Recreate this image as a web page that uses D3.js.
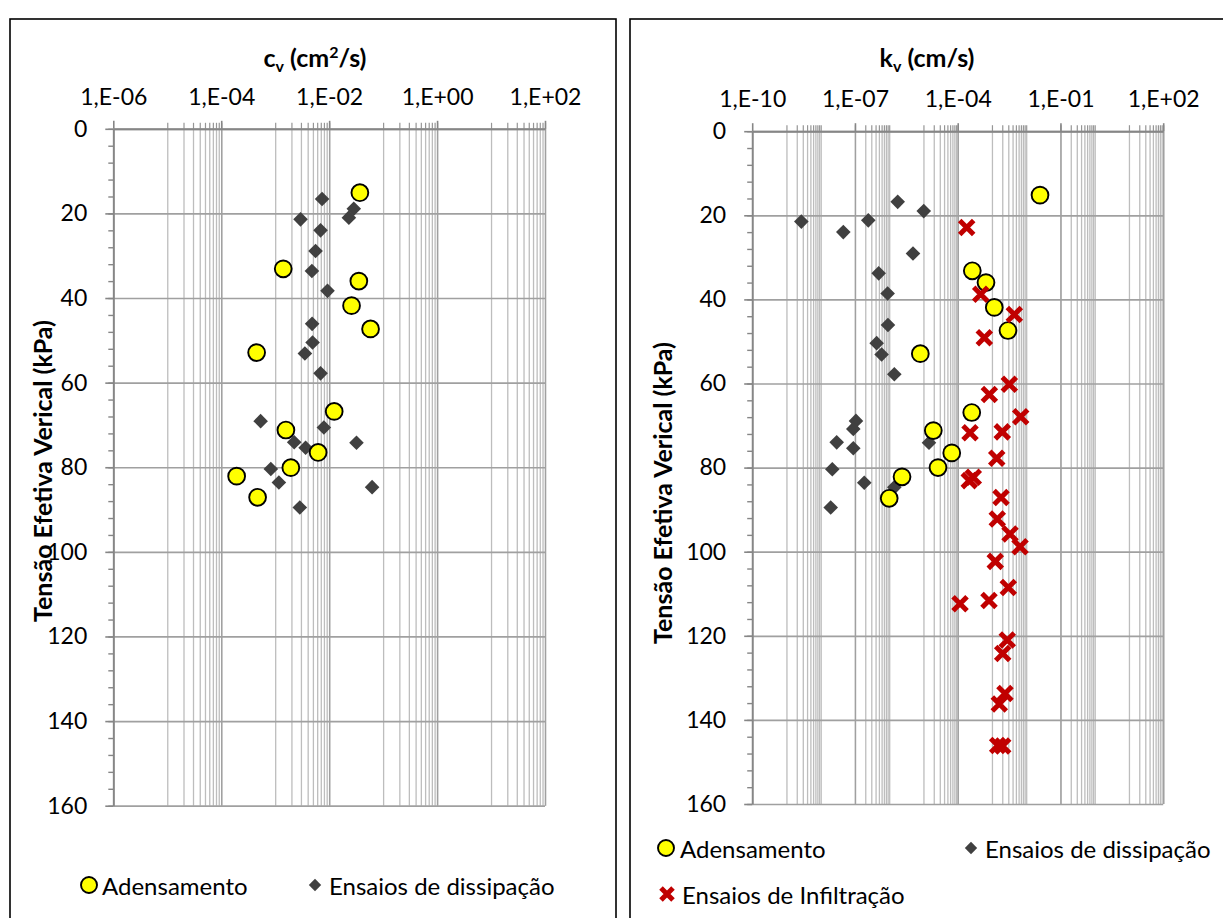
<!DOCTYPE html>
<html>
<head>
<meta charset="utf-8">
<script src="https://cdn.jsdelivr.net/npm/d3@7"></script>
<style>
  body { margin: 0; background: #fff; }
  svg { display: block; }
  text { font-family: Lato, "Open Sans", "DejaVu Sans", sans-serif; fill: #000; }
</style>
</head>
<body>
<svg id="chart" width="1223" height="918"></svg>
<script>
// ---- Data: [value, vertical effective stress (kPa)] ----
// Coefficient of consolidation cv (cm²/s)
const cvAdensamento = [
  [0.0371, 15.1], [1.41e-3, 33.1], [0.0355, 36.0], [0.026, 41.8], [0.0585, 47.3], [4.53e-4, 52.9],
  [0.0124, 66.8], [1.58e-3, 71.2], [6.25e-3, 76.5], [1.95e-3, 80.1], [1.93e-4, 82.1], [4.72e-4, 87.1]
];
const cvDissipacao = [
  [7.4e-3, 16.6], [0.0286, 18.9], [0.0232, 21.0], [2.95e-3, 21.4], [6.93e-3, 24.0], [5.6e-3, 28.9],
  [4.79e-3, 33.6], [9.33e-3, 38.3], [4.84e-3, 46.1], [4.93e-3, 50.5], [3.55e-3, 53.1], [6.93e-3, 57.8],
  [5.37e-4, 69.1], [7.98e-3, 70.6], [0.0321, 74.2], [2.25e-3, 74.1], [3.66e-3, 75.4], [8.3e-4, 80.4],
  [1.17e-3, 83.6], [0.0625, 84.7], [2.86e-3, 89.5]
];
// Vertical hydraulic conductivity kv (cm/s)
const kvAdensamento = [
  [0.0253, 15.2], [2.67e-4, 33.2], [6.7e-4, 36.0], [1.17e-3, 41.9], [2.94e-3, 47.4], [8.1e-6, 52.9],
  [2.57e-4, 66.9], [1.94e-5, 71.2], [6.7e-5, 76.5], [2.66e-5, 80.0], [2.37e-6, 82.2], [1.0e-6, 87.3]
];
const kvDissipacao = [
  [1.77e-6, 16.8], [1.02e-5, 19.0], [2.72e-9, 21.5], [2.45e-7, 21.2], [4.57e-8, 24.0], [4.95e-6, 29.1],
  [4.93e-7, 33.8], [9.0e-7, 38.6], [9.2e-7, 46.1], [4.3e-7, 50.4], [6.0e-7, 53.1], [1.41e-6, 57.8],
  [1.07e-7, 68.9], [8.95e-8, 70.8], [2.93e-8, 74.0], [8.95e-8, 75.4], [1.45e-5, 74.1], [2.18e-8, 80.4],
  [1.87e-7, 83.6], [1.41e-6, 84.7], [1.96e-8, 89.5]
];
const kvInfiltracao = [
  [1.83e-4, 22.9], [4.7e-4, 38.8], [4.5e-3, 43.6], [5.98e-4, 49.1], [3.21e-3, 60.2], [8.4e-4, 62.6],
  [6.9e-3, 67.9], [2.29e-4, 71.7], [2.0e-3, 71.5], [1.38e-3, 77.8], [2.85e-4, 82.3], [2.18e-4, 83.1],
  [1.84e-3, 87.1], [1.43e-3, 92.2], [3.37e-3, 95.8], [6.6e-3, 98.8], [1.25e-3, 102.3], [1.17e-4, 112.4],
  [8.2e-4, 111.6], [3.0e-3, 108.5], [2.8e-3, 121.0], [2.06e-3, 124.2], [2.4e-3, 133.7], [1.64e-3, 136.2],
  [1.47e-3, 146.1], [2.06e-3, 146.2]
];

// ---- Axis ticks ----
const cvTicks = [1e-6, 1e-4, 1e-2, 1, 1e2];
const kvTicks = [1e-10, 1e-7, 1e-4, 1e-1, 1e2];
const cvMinorDecades = [-5, -3, -1, 1];
const kvMinorDecades = [-9, -7, -5, -3, -1, 1];
const stressTicks = [0, 20, 40, 60, 80, 100, 120, 140, 160];
const stressMinor = d3.range(0, 161, 4);

const legendLabels = ["Adensamento", "Ensaios de dissipação", "Ensaios de Infiltração"];
const yTitle = "Tensão Efetiva Verical (kPa)";

const svg = d3.select("#chart");

// Excel-style pt-BR scientific label, e.g. 1,E-06
const sciLabel = v => {
  const e = Math.round(Math.log10(v));
  return "1,E" + (e < 0 ? "-" : "+") + String(Math.abs(e)).padStart(2, "0");
};

// minor gridlines: k·10^e (k = 1..10) inside every listed decade
const minorValues = decades => decades.flatMap(e => d3.range(1, 11).map(k => k * Math.pow(10, e)));

// ---- markers ----
function circleMark(sel, r) {
  sel.append("circle").attr("r", r).attr("fill", "#FFFF00").attr("stroke", "#000").attr("stroke-width", 1.9);
}
function diamondMark(sel, h) {
  sel.append("path").attr("d", `M0,${-h}L${h},0L0,${h}L${-h},0Z`).attr("fill", "#404040");
}
function crossMark(sel, h) {
  sel.append("path").attr("d", `M${-h},${-h}L${h},${h}M${-h},${h}L${h},${-h}`)
    .attr("stroke", "#C00000").attr("stroke-width", 5).attr("fill", "none");
}

function drawPanel(p) {
  const g = svg.append("g");

  // panel frame
  g.append("rect").attr("x", p.frame[0]).attr("y", p.frame[1]).attr("width", p.frame[2]).attr("height", 950)
    .attr("fill", "none").attr("stroke", "#000").attr("stroke-width", 1.6);

  const x = d3.scaleLog().domain(p.domain).range([p.left, p.right]);
  const y = d3.scaleLinear().domain([0, 160]).range([p.top, p.bottom]);
  const plotH = p.bottom - p.top, plotW = p.right - p.left;

  // vertical minor gridlines
  g.append("g").attr("transform", `translate(0,${p.top})`)
    .call(d3.axisTop(x).tickValues(p.minor).tickSize(-plotH).tickFormat(""))
    .call(a => { a.select(".domain").remove(); a.selectAll("line").attr("stroke", "#BDBDBD").attr("stroke-width", 1.3); });
  // vertical major gridlines
  g.append("g").attr("transform", `translate(0,${p.top})`)
    .call(d3.axisTop(x).tickValues(p.ticks).tickSize(-plotH).tickFormat(""))
    .call(a => { a.select(".domain").remove(); a.selectAll("line").attr("stroke", "#A0A0A0").attr("stroke-width", 1.4); });
  // horizontal gridlines
  g.append("g").attr("transform", `translate(${p.left},0)`)
    .call(d3.axisLeft(y).tickValues(stressTicks).tickSize(-plotW).tickFormat(""))
    .call(a => { a.select(".domain").remove(); a.selectAll("line").attr("stroke", "#A0A0A0").attr("stroke-width", 1.7); });

  // top (x) axis: minor and major ticks with labels
  g.append("g").attr("transform", `translate(0,${p.top})`)
    .call(d3.axisTop(x).tickValues(p.minor).tickSize(6).tickFormat(""))
    .call(a => { a.select(".domain").remove(); a.selectAll("line").attr("stroke", "#969696").attr("stroke-width", 1.2); });
  g.append("g").attr("transform", `translate(0,${p.top})`)
    .call(d3.axisTop(x).tickValues(p.ticks).tickSizeInner(8).tickSizeOuter(0).tickPadding(16).tickFormat(sciLabel))
    .call(a => {
      a.select(".domain").attr("stroke", "#868686").attr("stroke-width", 1.9);
      a.selectAll("line").attr("stroke", "#868686").attr("stroke-width", 1.6);
      a.selectAll("text").attr("font-size", 23).attr("fill", "#000").style("font-family", "Lato");
    });

  // left (y) axis
  g.append("g").attr("transform", `translate(${p.left},0)`)
    .call(d3.axisLeft(y).tickValues(stressMinor).tickSize(5).tickFormat(""))
    .call(a => { a.select(".domain").remove(); a.selectAll("line").attr("stroke", "#868686").attr("stroke-width", 1.4); });
  g.append("g").attr("transform", `translate(${p.left},0)`)
    .call(d3.axisLeft(y).tickValues(stressTicks).tickSizeInner(8).tickSizeOuter(0).tickPadding(18))
    .call(a => {
      a.select(".domain").attr("stroke", "#868686").attr("stroke-width", 1.9);
      a.selectAll("line").attr("stroke", "#868686").attr("stroke-width", 1.6);
      a.selectAll("text").attr("font-size", 23).attr("fill", "#000").style("font-family", "Lato");
    });

  // chart title
  const t = g.append("text").attr("x", p.titleX).attr("y", 67).attr("text-anchor", "middle")
    .attr("font-size", 25).attr("font-weight", "bold");
  t.append("tspan").text(p.title[0]);
  t.append("tspan").text(p.title[1]).attr("font-size", 16).attr("dy", 5);
  t.append("tspan").text(p.title[2]).attr("dy", -5);
  if (p.title[3]) {
    t.append("tspan").text(p.title[3]).attr("font-size", 16).attr("dy", -9);
    t.append("tspan").text(p.title[4]).attr("dy", 9);
  }

  // y-axis title
  g.append("text").attr("transform", `translate(${p.yTitle[0]},${p.yTitle[1]}) rotate(-90)`)
    .attr("text-anchor", "middle").attr("dominant-baseline", "central")
    .attr("font-size", 25).attr("font-weight", "bold").text(yTitle);

  // data series
  const plotG = g.append("g");
  p.series.forEach(s => {
    plotG.selectAll(null).data(s.data).enter().append("g")
      .attr("transform", d => `translate(${x(d[0])},${y(d[1])})`)
      .each(function () { s.mark(d3.select(this), s.size); });
  });

  // legend
  p.legend.forEach(l => {
    const lg = g.append("g").attr("transform", `translate(${l.mx},${l.y})`);
    l.mark(lg, l.size);
    g.append("text").attr("x", l.tx).attr("y", l.y).attr("dominant-baseline", "central")
      .attr("font-size", 24).text(l.label);
  });
}

drawPanel({
  frame: [10, 19, 606],
  domain: [1e-6, 1e2], left: 113.3, right: 545, top: 128.8, bottom: 805.7,
  ticks: cvTicks, minor: minorValues(cvMinorDecades),
  title: ["c", "v", " (cm", "2", "/s)"], titleX: 315,
  yTitle: [42, 471],
  series: [
    { data: cvDissipacao, mark: diamondMark, size: 7.3 },
    { data: cvAdensamento, mark: circleMark, size: 8.4 }
  ],
  legend: [
    { label: legendLabels[0], mark: circleMark, size: 8, mx: 89, tx: 102, y: 885 },
    { label: legendLabels[1], mark: diamondMark, size: 6.2, mx: 315, tx: 329, y: 885 }
  ]
});

drawPanel({
  frame: [630, 19, 620],
  domain: [1e-10, 1e2], left: 752.2, right: 1163.2, top: 131.2, bottom: 804,
  ticks: kvTicks, minor: minorValues(kvMinorDecades),
  title: ["k", "v", " (cm/s)"], titleX: 927,
  yTitle: [662, 493],
  series: [
    { data: kvDissipacao, mark: diamondMark, size: 7.3 },
    { data: kvAdensamento, mark: circleMark, size: 8.4 },
    { data: kvInfiltracao, mark: crossMark, size: 7 }
  ],
  legend: [
    { label: legendLabels[0], mark: circleMark, size: 8, mx: 666, tx: 680, y: 848 },
    { label: legendLabels[1], mark: diamondMark, size: 6.2, mx: 971, tx: 985, y: 848 },
    { label: legendLabels[2], mark: crossMark, size: 6, mx: 667, tx: 682, y: 894 }
  ]
});
</script>
</body>
</html>
